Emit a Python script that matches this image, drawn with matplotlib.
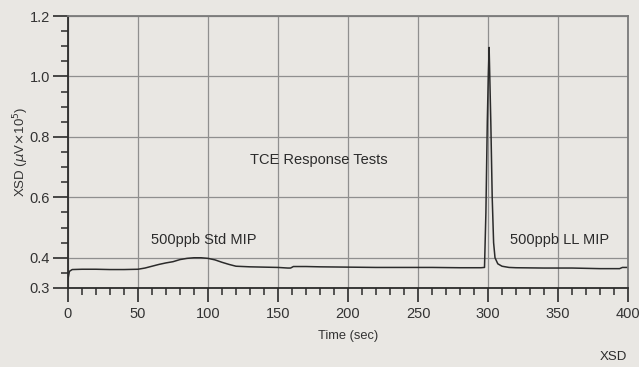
import matplotlib
matplotlib.use("Agg")
import matplotlib.pyplot as plt
from matplotlib.ticker import MultipleLocator, FixedLocator

plt.rcParams["font.family"] = ["Liberation Sans", "DejaVu Sans"]

# Data
time_sec = [0, 1, 3, 10, 20, 30, 40, 50, 55, 60, 65, 70, 75, 80, 85, 90, 95,
            100, 105, 110, 115, 120, 130, 140, 150, 157, 159, 161, 170, 180,
            200, 220, 240, 260, 280, 295, 297.5, 298.5, 299.5, 300.2, 300.8,
            302, 303, 304, 305, 307, 310, 315, 320, 340, 360, 380, 394, 396, 400]
xsd = [0.33, 0.355, 0.361, 0.362, 0.362, 0.361, 0.361, 0.362, 0.366, 0.372,
       0.378, 0.383, 0.387, 0.394, 0.398, 0.400, 0.400, 0.398, 0.393, 0.385,
       0.378, 0.372, 0.370, 0.369, 0.368, 0.366, 0.366, 0.371, 0.371, 0.370,
       0.369, 0.368, 0.368, 0.368, 0.367, 0.367, 0.368, 0.55, 0.85, 1.0, 1.096,
       0.85, 0.6, 0.45, 0.40, 0.38, 0.372, 0.368, 0.367, 0.366, 0.366, 0.364,
       0.364, 0.368, 0.368]

y_major = [0.3, 0.4, 0.6, 0.8, 1.0, 1.2]
x_major = [0, 50, 100, 150, 200, 250, 300, 350, 400]

bg = "#e9e7e3"
ink = "#2b2b2b"
grid_c = "#8f8f8f"

fig = plt.figure(figsize=(6.39, 3.67), dpi=100, facecolor=bg)
ax = fig.add_axes([0.1064, 0.2153, 0.8764, 0.7411], facecolor=bg)

ax.plot(time_sec, xsd, color=ink, linewidth=1.1)

ax.set_xlim(0, 400)
ax.set_ylim(0.3, 1.2)
ax.xaxis.set_major_locator(FixedLocator(x_major))
ax.xaxis.set_minor_locator(MultipleLocator(10))
ax.yaxis.set_major_locator(FixedLocator(y_major))
ax.yaxis.set_minor_locator(MultipleLocator(0.05))
ax.set_yticklabels([f"{v:.1f}" for v in y_major])

ax.grid(True, which="major", color=grid_c, linewidth=0.9)
ax.set_axisbelow(True)

ax.tick_params(axis="x", which="major", direction="out", length=10, width=1.2,
               color=ink, labelsize=10.5, labelcolor="#333333", pad=4)
ax.tick_params(axis="x", which="minor", direction="out", length=5, width=1.1, color=ink)
ax.tick_params(axis="y", which="major", direction="out", length=11, width=1.2,
               color=ink, labelsize=10.5, labelcolor="#333333", pad=2)
ax.tick_params(axis="y", which="minor", direction="out", length=5, width=1.1, color=ink)

for side in ["left", "bottom"]:
    ax.spines[side].set_color(ink)
    ax.spines[side].set_linewidth(1.3)
for side in ["top", "right"]:
    ax.spines[side].set_color("#7a7a7a")
    ax.spines[side].set_linewidth(1.3)

ax.set_xlabel("Time (sec)", fontsize=9.3, color="#333333", labelpad=6)
ax.set_ylabel(r"XSD ($\mu$V$\times$10$^5$)", fontsize=9.5, color="#333333", labelpad=-1)

ax.text(179, 0.723, "TCE Response Tests", fontsize=10.5, color=ink, ha="center", va="center")
ax.text(97, 0.458, "500ppb Std MIP", fontsize=10.5, color=ink, ha="center", va="center")
ax.text(351, 0.458, "500ppb LL MIP", fontsize=10.5, color=ink, ha="center", va="center")
fig.text(0.960, 0.027, "XSD", fontsize=9.5, color=ink, ha="center", va="center")

fig.savefig("out.png", dpi=100, facecolor=bg)
